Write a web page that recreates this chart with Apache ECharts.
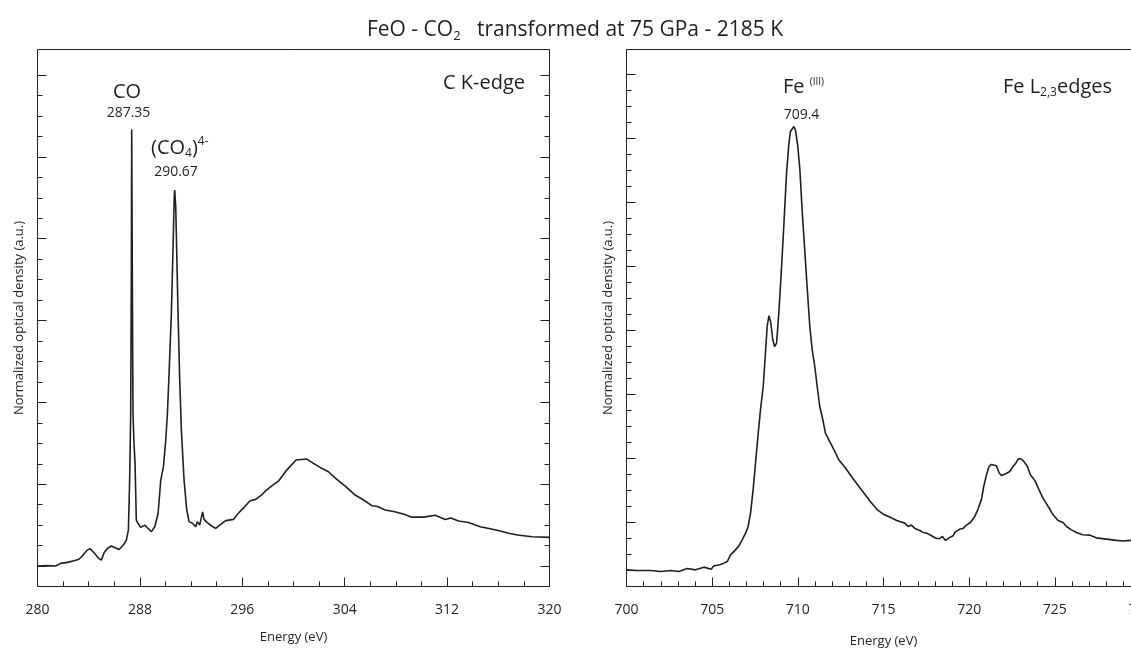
<!DOCTYPE html>
<html>
<head>
<meta charset="utf-8">
<title>FeO - CO2 transformed at 75 GPa - 2185 K</title>
<script src="https://cdn.jsdelivr.net/npm/echarts@6/dist/echarts.min.js"></script>
<style>
html, body { margin: 0; padding: 0; background: #fff; }
#chart { width: 1131px; height: 651px; }
</style>
</head>
<body>
<div id="chart"></div>
<script>
// C K-edge spectrum (energy in eV, intensity in arbitrary units)
var cEnergy = [280.00, 280.77, 281.42, 281.81, 282.33, 282.85, 283.24, 283.50, 283.89, 284.10,
  284.42, 284.81, 284.99, 285.20, 285.46, 285.77, 286.11, 286.37, 286.71, 286.94,
  287.10, 287.20, 287.28, 287.33, 287.36, 287.41, 287.46, 287.54, 287.62, 287.72,
  287.85, 288.06, 288.38, 288.58, 288.90, 289.16, 289.42, 289.63, 289.84, 290.02,
  290.15, 290.28, 290.46, 290.59, 290.69, 290.72, 290.80, 290.88, 290.98, 291.11,
  291.24, 291.45, 291.66, 291.84, 292.10, 292.36, 292.49, 292.67, 292.90, 293.01,
  293.27, 293.59, 293.92, 294.31, 294.71, 295.31, 295.67, 296.14, 296.61, 297.05,
  297.46, 297.89, 298.30, 298.82, 299.47, 300.20, 301.04, 301.56, 302.08, 302.73,
  303.38, 304.04, 304.82, 305.47, 306.12, 306.51, 307.16, 307.81, 308.59, 309.24,
  310.16, 311.07, 311.85, 312.29, 312.89, 313.67, 314.58, 315.37, 316.15, 316.80,
  317.50, 318.66, 320.00];
var cIntensity = [0.00, 0.02, 0.00, 0.13, 0.18, 0.26, 0.33, 0.49, 0.78, 0.85,
  0.65, 0.36, 0.29, 0.65, 0.86, 0.98, 0.88, 0.81, 1.03, 1.27,
  1.76, 4.20, 7.46, 13.98, 21.34, 13.98, 7.46, 6.00, 5.02, 2.25,
  2.09, 1.89, 2.00, 1.87, 1.68, 1.92, 2.57, 4.20, 4.86, 6.16,
  7.46, 9.42, 12.35, 15.61, 18.21, 18.38, 17.56, 15.28, 12.35, 9.09,
  6.65, 4.20, 2.74, 2.17, 2.09, 1.92, 2.17, 2.00, 2.65, 2.28,
  2.12, 1.96, 1.84, 2.04, 2.22, 2.28, 2.57, 2.87, 3.19, 3.26,
  3.45, 3.71, 3.92, 4.15, 4.69, 5.18, 5.23, 5.02, 4.82, 4.61,
  4.24, 3.91, 3.47, 3.23, 2.95, 2.92, 2.74, 2.67, 2.54, 2.39,
  2.39, 2.48, 2.28, 2.35, 2.20, 2.13, 1.92, 1.82, 1.71, 1.60,
  1.52, 1.43, 1.40];

// Fe L2,3 edges spectrum
var feEnergy = [700.00, 700.63, 701.40, 701.99, 702.57, 703.06, 703.54, 704.03, 704.52, 704.94,
  705.10, 705.29, 705.49, 705.68, 705.88, 706.07, 706.36, 706.56, 706.75, 706.95,
  707.10, 707.24, 707.39, 707.53, 707.67, 707.82, 707.98, 708.11, 708.21, 708.31,
  708.41, 708.54, 708.64, 708.76, 708.89, 709.03, 709.18, 709.34, 709.48, 709.57,
  709.77, 709.86, 710.00, 710.12, 710.25, 710.39, 710.54, 710.70, 710.84, 710.99,
  711.13, 711.28, 711.46, 711.61, 711.81, 712.06, 712.39, 712.78, 713.27, 713.71,
  714.23, 714.64, 715.05, 715.36, 715.77, 715.95, 716.24, 716.44, 716.63, 716.83,
  717.12, 717.31, 717.51, 717.80, 718.09, 718.29, 718.44, 718.62, 718.83, 719.06,
  719.16, 719.45, 719.65, 719.84, 720.07, 720.33, 720.52, 720.72, 720.85, 721.01,
  721.16, 721.30, 721.59, 721.75, 721.88, 722.14, 722.37, 722.56, 722.72, 722.86,
  722.99, 723.19, 723.40, 723.57, 723.83, 724.08, 724.31, 724.61, 724.90, 725.19,
  725.48, 725.68, 725.97, 726.26, 726.61, 727.04, 727.42, 728.01, 728.59, 728.98,
  729.43, 730.00];
var feIntensity = [1.04, 1.00, 1.00, 0.94, 1.00, 0.94, 1.13, 1.04, 1.21, 1.08,
  1.29, 1.33, 1.38, 1.46, 1.56, 1.98, 2.29, 2.54, 2.92, 3.33,
  3.75, 4.58, 6.04, 7.71, 9.38, 11.04, 12.50, 14.58, 16.25, 16.92,
  16.56, 15.42, 15.00, 15.21, 17.08, 19.58, 22.50, 25.83, 27.71, 28.44,
  28.75, 28.54, 27.50, 26.04, 23.54, 21.25, 18.75, 16.25, 14.79, 13.75,
  12.50, 11.25, 10.42, 9.58, 9.17, 8.65, 7.92, 7.40, 6.67, 6.04,
  5.31, 4.79, 4.48, 4.34, 4.13, 4.06, 3.96, 3.75, 3.84, 3.63,
  3.50, 3.38, 3.34, 3.17, 3.00, 3.00, 3.13, 2.88, 3.04, 3.17,
  3.38, 3.59, 3.63, 3.84, 4.00, 4.38, 4.84, 5.46, 6.25, 6.98,
  7.50, 7.63, 7.55, 7.09, 6.94, 7.05, 7.19, 7.50, 7.71, 7.96,
  8.00, 7.82, 7.50, 6.98, 6.63, 6.04, 5.52, 5.00, 4.48, 4.13,
  4.00, 3.75, 3.54, 3.38, 3.23, 3.21, 3.04, 2.96, 2.88, 2.84,
  2.88, 2.90];

// tick marks on the (unlabelled) intensity axes
var cMajorTicks = [0, 4, 8, 12, 16, 20, 24];
var cMinorTicks = [1, 2, 3, 5, 6, 7, 9, 10, 11, 13, 14, 15, 17, 18, 19, 21, 22, 23];
var feMajorTicks = [0, 4, 8, 12, 16, 20, 24, 28, 32];
var feMinorTicks = [1, 2, 3, 5, 6, 7, 9, 10, 11, 13, 14, 15, 17, 18, 19, 21, 22, 23,
  25, 26, 27, 29, 30, 31];

var FONT = 'Open Sans';
var INK = '#231f20';

function pairs(xs, ys) {
  return xs.map(function (x, i) { return [x, ys[i]]; });
}

function richSet(size) {
  var small = Math.round(size * 0.6);
  return {
    a: { fontFamily: FONT, fontSize: size, fill: INK },
    sb: { fontFamily: FONT, fontSize: small, fill: INK, padding: [small, 0, 0, 0] },
    sp: { fontFamily: FONT, fontSize: small, fill: INK, padding: [0, 0, small, 0] },
    xs: { fontFamily: FONT, fontSize: 10, fill: INK, padding: [0, 0, 10, 0] }
  };
}

function label(text, x, y, size, align) {
  return {
    type: 'text', x: x, y: y, silent: true,
    style: {
      text: text, align: align || 'center', verticalAlign: 'middle',
      fontFamily: FONT, fontSize: size, fill: INK, rich: richSet(size)
    }
  };
}

var tickLine = { color: INK, width: 1 };

function energyAxis(grid, min, max, step, split, gap) {
  return {
    type: 'value', gridIndex: grid, position: 'bottom',
    min: min, max: max, interval: step,
    name: 'Energy (eV)', nameLocation: 'middle', nameGap: gap,
    nameTextStyle: { fontFamily: FONT, fontSize: 13, color: INK },
    axisLine: { show: false, onZero: false },
    axisTick: { show: true, inside: true, length: 9, lineStyle: tickLine },
    minorTick: { show: true, splitNumber: split, length: 5, lineStyle: tickLine },
    axisLabel: { fontFamily: FONT, fontSize: 14, color: INK, margin: 17 },
    splitLine: { show: false }, minorSplitLine: { show: false }
  };
}

function intensityAxis(grid, pos, min, max, ticks, len, name) {
  return {
    type: 'value', gridIndex: grid, position: pos, min: min, max: max,
    name: name || '', nameLocation: 'middle', nameGap: 12, nameRotate: 90,
    nameTextStyle: { fontFamily: FONT, fontSize: 13, color: INK },
    axisLine: { show: false, onZero: false },
    axisTick: { show: true, inside: true, length: len, customValues: ticks, lineStyle: tickLine },
    axisLabel: { show: false },
    splitLine: { show: false }
  };
}

var yName = 'Normalized optical density (a.u.)';

var option = {
  animation: false,
  backgroundColor: '#fff',
  textStyle: { fontFamily: FONT, color: INK },
  grid: [
    { left: 37.5, top: 49.5, width: 512, height: 537, show: true, borderColor: INK, borderWidth: 1, outerBoundsMode: 'none' },
    { left: 626.5, top: 49.5, width: 514, height: 537, show: true, borderColor: INK, borderWidth: 1, outerBoundsMode: 'none' }
  ],
  xAxis: [
    energyAxis(0, 280, 320, 8, 4, 44),
    energyAxis(1, 700, 730, 5, 5, 48)
  ],
  yAxis: [
    intensityAxis(0, 'left', -1, 25.25, cMinorTicks, 5),
    intensityAxis(0, 'left', -1, 25.25, cMajorTicks, 9, yName),
    intensityAxis(0, 'right', -1, 25.25, cMinorTicks, 5),
    intensityAxis(0, 'right', -1, 25.25, cMajorTicks, 9),
    intensityAxis(1, 'left', 0, 33.56, feMinorTicks, 5),
    intensityAxis(1, 'left', 0, 33.56, feMajorTicks, 9, yName),
    intensityAxis(1, 'right', 0, 33.56, feMinorTicks, 5),
    intensityAxis(1, 'right', 0, 33.56, feMajorTicks, 9)
  ],
  series: [
    {
      name: 'C K-edge', type: 'line', xAxisIndex: 0, yAxisIndex: 0,
      data: pairs(cEnergy, cIntensity), showSymbol: false, symbol: 'none',
      lineStyle: { color: INK, width: 1.6 }, silent: true
    },
    {
      name: 'Fe L2,3 edges', type: 'line', xAxisIndex: 1, yAxisIndex: 4,
      data: pairs(feEnergy, feIntensity), showSymbol: false, symbol: 'none',
      lineStyle: { color: INK, width: 1.6 }, silent: true
    }
  ],
  graphic: [
    label('{a|FeO - CO}{sb|2}{a|   transformed at 75 GPa - 2185 K}', 575, 30, 21),
    label('{a|CO}', 127, 92, 20),
    label('287.35', 128.5, 113, 14),
    label('{a|(CO}{sb|4}{a|)}{sp|4-}', 151, 148, 20, 'left'),
    label('290.67', 176, 172.5, 14),
    label('{a|C K-edge}', 525, 83, 20, 'right'),
    label('{a|Fe }{xs|(III)}', 783, 87, 20, 'left'),
    label('709.4', 801.5, 114.7, 14),
    label('{a|Fe L}{sb|2,3}{a|edges}', 1112, 87, 20, 'right')
  ]
};

var chart = echarts.init(document.getElementById('chart'));
chart.setOption(option);
</script>
</body>
</html>
